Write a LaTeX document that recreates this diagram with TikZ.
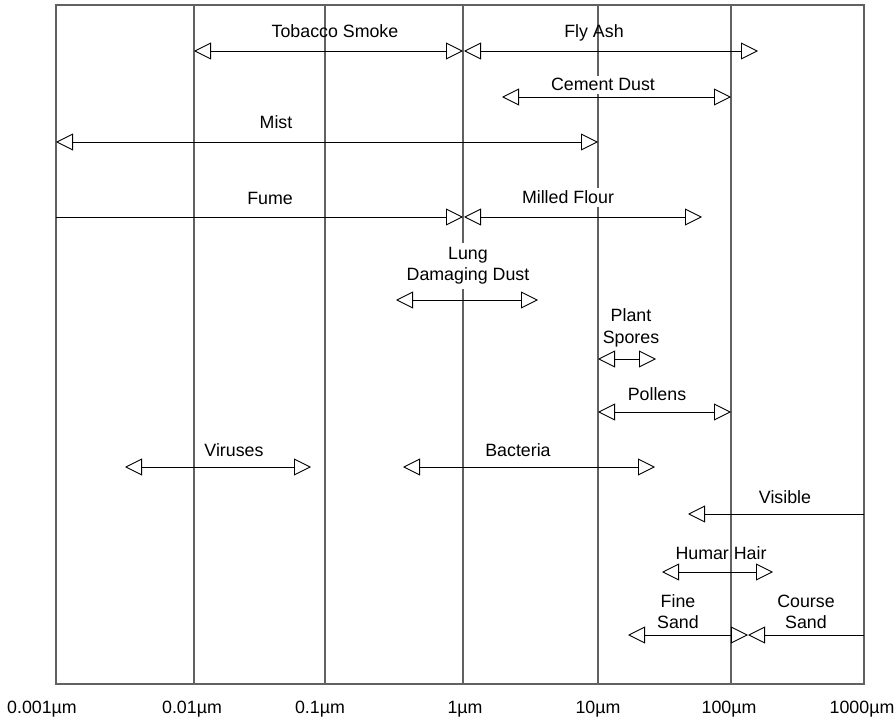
\documentclass[tikz,border=0pt]{standalone}
\usepackage{fontspec}
\setmainfont{Liberation Sans}
\usetikzlibrary{positioning,arrows.meta}

\begin{document}
\begin{tikzpicture}[
    x=1pt, y=-1pt,
    >={Triangle[open, length=17pt, width=17pt, fill=white]},
    lbl/.style={font=\fontsize{17.8}{21}\selectfont, align=center,
                inner sep=3pt, anchor=base},
    Blbl/.style={lbl, fill=white},
    frm/.style={draw=black!62, line width=1.2pt},
    grid/.style={draw=black!62, line width=1.2pt},
    arr/.style={draw=black, line width=0.9pt},
]
\useasboundingbox (0,0) rectangle (895,722);

% frame and decade lines
\draw[frm] (56,5) rectangle (864,684);
\draw[grid] (194,5) -- (194,684);
\draw[grid] (325,5) -- (325,684);
\draw[grid] (463,5) -- (463,684);
\draw[grid] (598,5) -- (598,684);
\draw[grid] (731,5) -- (731,684);

% decade labels
\node[lbl] (d0) at (42,713)  {0.001µm};
\node[lbl] (d1) at (192,713) {0.01µm};
\node[lbl] (d2) at (320,713) {0.1µm};
\node[lbl] (d3) at (465,713) {1µm};
\node[lbl] (d4) at (598,713) {10µm};
\node[lbl] (d5) at (729,713) {100µm};
\node[lbl] (d6) at (862,713) {1000µm};

% particle labels (two-line labels sit on their last line)
\node[lbl]  (tobacco)  at (335,38)  {Tobacco Smoke};
\node[lbl]  (flyash)   at (594,38)  {Fly Ash};
\node[Blbl] (cement)   at (603,91)  {Cement Dust};
\node[lbl]  (mist)     at (276,129) {Mist};
\node[lbl]  (fume)     at (270,205) {Fume};
\node[Blbl] (flour)    at (568,204) {Milled Flour};
\node[Blbl, inner sep=4.5pt] (lung) at (468,281) {Lung\\Damaging Dust};
\node[lbl]  (spores)   at (631,343) {Plant\\Spores};
\node[lbl]  (pollens)  at (657,400) {Pollens};
\node[lbl]  (viruses)  at (234,456) {Viruses};
\node[lbl]  (bacteria) at (518,456) {Bacteria};
\node[lbl]  (visible)  at (785,503) {Visible};
\node[lbl]  (hair)     at (721,559) {Humar Hair};
\node[lbl]  (fine)     at (678,628) {Fine\\Sand};
\node[lbl]  (coarse)   at (806,628) {Course\\Sand};

% range ends
\coordinate (tobaccoL)  at (194,51);  \coordinate (tobaccoR)  at (463,51);
\coordinate (flyashL)   at (464,51);  \coordinate (flyashR)   at (758,51);
\coordinate (cementL)   at (502,97);  \coordinate (cementR)   at (731,97);
\coordinate (mistL)     at (56,142);  \coordinate (mistR)     at (598,142);
\coordinate (fumeL)     at (56,217);  \coordinate (fumeR)     at (463,217);
\coordinate (flourL)    at (464,217); \coordinate (flourR)    at (702,217);
\coordinate (lungL)     at (396,300); \coordinate (lungR)     at (538,300);
\coordinate (sporesL)   at (598,359); \coordinate (sporesR)   at (656,359);
\coordinate (pollensL)  at (598,412); \coordinate (pollensR)  at (731,412);
\coordinate (virusesL)  at (125,467); \coordinate (virusesR)  at (311,467);
\coordinate (bacteriaL) at (403,467); \coordinate (bacteriaR) at (655,467);
\coordinate (visibleL)  at (688,514); \coordinate (visibleR)  at (864,514);
\coordinate (hairL)     at (662,572); \coordinate (hairR)     at (773,572);
\coordinate (fineL)     at (628,635); \coordinate (fineR)     at (748,635);
\coordinate (coarseL)   at (748,635); \coordinate (coarseR)   at (864,635);

\draw[arr, <->] (tobaccoL)  -- (tobaccoR);
\draw[arr, <->] (flyashL)   -- (flyashR);
\draw[arr, <->] (cementL)   -- (cementR);
\draw[arr, <->] (mistL)     -- (mistR);
\draw[arr, ->]  (fumeL)     -- (fumeR);
\draw[arr, <->] (flourL)    -- (flourR);
\draw[arr, <->] (lungL)     -- (lungR);
\draw[arr, <->] (sporesL)   -- (sporesR);
\draw[arr, <->] (pollensL)  -- (pollensR);
\draw[arr, <->] (virusesL)  -- (virusesR);
\draw[arr, <->] (bacteriaL) -- (bacteriaR);
\draw[arr, ->]  (visibleR)  -- (visibleL);
\draw[arr, <->] (hairL)     -- (hairR);
\draw[arr, <->] (fineL)     -- (fineR);
\draw[arr, ->]  (coarseR)   -- (coarseL);
\end{tikzpicture}
\end{document}
